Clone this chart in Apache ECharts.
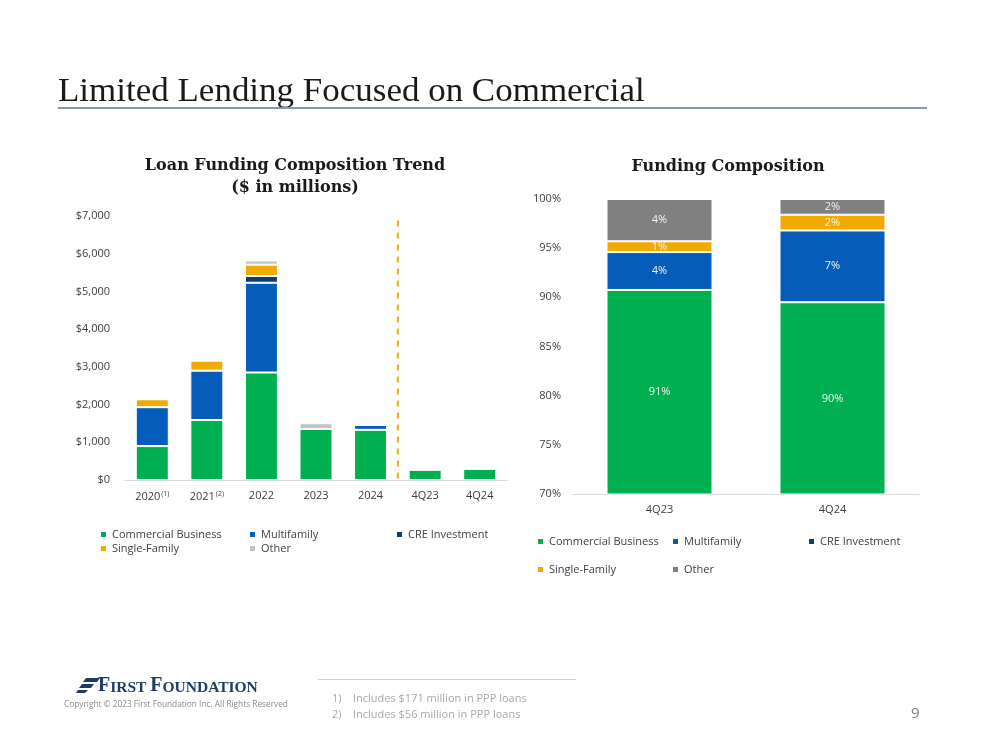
<!DOCTYPE html>
<html>
<head>
<meta charset="utf-8">
<script src="https://cdn.jsdelivr.net/npm/echarts@6/dist/echarts.min.js"></script>
<style>
html,body{margin:0;padding:0;background:#fff;}
#c{width:999px;height:750px;}
</style>
</head>
<body>
<div id="c"></div>
<script>
// ---- Left chart data ($ in millions) ----
var trendCategories = ['2020', '2021', '2022', '2023', '2024', '4Q23', '4Q24'];
var trendNotes = ['(1)', '(2)', '', '', '', '', ''];
var trendCommercial = [900, 1590, 2850, 1355, 1330, 275, 300];
var trendMultifamily = [1030, 1310, 2380, 0, 130, 0, 0];
var trendCRE = [0, 0, 180, 0, 0, 0, 0];
var trendSingleFamily = [210, 265, 300, 0, 0, 0, 0];
var trendOther = [0, 0, 110, 150, 0, 0, 0];
var trendDivider = 4.5; // between 2024 and 4Q23
var trendYTicks = [0, 1000, 2000, 3000, 4000, 5000, 6000, 7000];

// ---- Right chart data (%) ----
var compCategories = ['4Q23', '4Q24'];
var compCommercial = [90.75, 89.5];
var compMultifamily = [3.85, 7.3];
var compCRE = [0, 0];
var compSingleFamily = [1.1, 1.6];
var compOther = [4.3, 1.6];
var compYTicks = [70, 75, 80, 85, 90, 95, 100];

var C_GREEN = '#00b050', C_BLUE = '#065cb9', C_NAVY = '#0f3e6e', C_GOLD = '#f0ab00',
    C_LGRAY = '#c3c3c3', C_DGRAY = '#808080';
var TXT = '#404040';
var FONT = 'Open Sans';

var chart = echarts.init(document.getElementById('c'), null, {renderer: 'canvas'});

function barItem(color) {
  return {color: color, borderColor: '#ffffff', borderWidth: 1};
}
function compLabel() {
  return {
    show: true, position: 'inside', color: '#f2f2f2', fontSize: 11, fontFamily: FONT,
    formatter: function (p) { return p.value > 0 ? Math.round(p.value) + '%' : ''; }
  };
}
var legendText = {color: TXT, fontSize: 11, fontFamily: FONT};

var option = {
  backgroundColor: '#ffffff',
  animation: false,
  grid: [
    {left: 125, top: 216, width: 382, height: 264},
    {left: 573, top: 199, width: 346, height: 295}
  ],
  xAxis: [
    {
      type: 'category', gridIndex: 0, data: trendCategories,
      axisLine: {lineStyle: {color: '#d9d9d9', width: 1}},
      axisTick: {show: false},
      axisLabel: {
        color: TXT, fontSize: 11, fontFamily: FONT, margin: 10, interval: 0,
        formatter: function (v, i) {
          var n = trendNotes[i];
          return n ? v + '{s|' + n + '}' : v;
        },
        rich: {s: {fontSize: 7, fontFamily: FONT, color: TXT, verticalAlign: 'top', padding: [0, 0, 7, 1]}}
      }
    },
    {
      type: 'category', gridIndex: 1, data: compCategories,
      axisLine: {lineStyle: {color: '#d9d9d9', width: 1}},
      axisTick: {show: false},
      axisLabel: {color: TXT, fontSize: 11, fontFamily: FONT, margin: 10, interval: 0}
    },
    {
      type: 'value', gridIndex: 0, min: -0.5, max: 6.5, show: false
    }
  ],
  yAxis: [
    {
      type: 'value', gridIndex: 0, min: 0, max: 7000, interval: 1000,
      splitLine: {show: false}, axisLine: {show: false}, axisTick: {show: false},
      axisLabel: {
        color: TXT, fontSize: 11, fontFamily: FONT, margin: 15,
        formatter: function (v) { return '$' + v.toLocaleString('en-US'); }
      }
    },
    {
      type: 'value', gridIndex: 1, min: 70, max: 100, interval: 5,
      splitLine: {show: false}, axisLine: {show: false}, axisTick: {show: false},
      axisLabel: {color: TXT, fontSize: 11, fontFamily: FONT, margin: 12, formatter: '{value}%'}
    }
  ],
  legend: [
    {orient: 'vertical', left: 94, top: 524, itemWidth: 7, itemHeight: 7, itemGap: 3, icon: 'rect', textStyle: legendText,
      data: [{name: 'Commercial Business', itemStyle: {color: C_GREEN}}, {name: 'Single-Family', itemStyle: {color: C_GOLD}}]},
    {orient: 'vertical', left: 243, top: 524, itemWidth: 7, itemHeight: 7, itemGap: 3, icon: 'rect', textStyle: legendText,
      data: [{name: 'Multifamily', itemStyle: {color: C_BLUE}}, {name: 'Other', itemStyle: {color: C_LGRAY}}]},
    {orient: 'vertical', left: 390, top: 524, itemWidth: 7, itemHeight: 7, itemGap: 3, icon: 'rect', textStyle: legendText,
      data: [{name: 'CRE Investment', itemStyle: {color: C_NAVY}}]},
    {orient: 'vertical', left: 531, top: 531, itemWidth: 7, itemHeight: 7, itemGap: 17, icon: 'rect', textStyle: legendText,
      data: [{name: 'Commercial Business', itemStyle: {color: C_GREEN}}, {name: 'Single-Family', itemStyle: {color: C_GOLD}}]},
    {orient: 'vertical', left: 666, top: 531, itemWidth: 7, itemHeight: 7, itemGap: 17, icon: 'rect', textStyle: legendText,
      data: [{name: 'Multifamily', itemStyle: {color: C_BLUE}}, {name: 'Other', itemStyle: {color: C_DGRAY}}]},
    {orient: 'vertical', left: 802, top: 531, itemWidth: 7, itemHeight: 7, itemGap: 17, icon: 'rect', textStyle: legendText,
      data: [{name: 'CRE Investment', itemStyle: {color: C_NAVY}}]}
  ],
  series: [
    {name: 'Commercial Business', type: 'bar', stack: 'L', xAxisIndex: 0, yAxisIndex: 0, barWidth: 33, itemStyle: barItem(C_GREEN), data: trendCommercial},
    {name: 'Multifamily', type: 'bar', stack: 'L', xAxisIndex: 0, yAxisIndex: 0, barWidth: 33, itemStyle: barItem(C_BLUE), data: trendMultifamily},
    {name: 'CRE Investment', type: 'bar', stack: 'L', xAxisIndex: 0, yAxisIndex: 0, barWidth: 33, itemStyle: barItem(C_NAVY), data: trendCRE},
    {name: 'Single-Family', type: 'bar', stack: 'L', xAxisIndex: 0, yAxisIndex: 0, barWidth: 33, itemStyle: barItem(C_GOLD), data: trendSingleFamily},
    {name: 'Other', type: 'bar', stack: 'L', xAxisIndex: 0, yAxisIndex: 0, barWidth: 33, itemStyle: barItem(C_LGRAY), data: trendOther},
    {name: 'divider', type: 'line', xAxisIndex: 2, yAxisIndex: 0, symbol: 'none', silent: true,
      lineStyle: {color: C_GOLD, width: 2, type: [6, 6]},
      data: [[trendDivider, 40], [trendDivider, trendYTicks[trendYTicks.length - 1]]]},

    {name: 'Commercial Business', type: 'bar', stack: 'R', xAxisIndex: 1, yAxisIndex: 1, barWidth: 106, itemStyle: barItem(C_GREEN), label: compLabel(), data: compCommercial},
    {name: 'Multifamily', type: 'bar', stack: 'R', xAxisIndex: 1, yAxisIndex: 1, barWidth: 106, itemStyle: barItem(C_BLUE), label: compLabel(), data: compMultifamily},
    {name: 'CRE Investment', type: 'bar', stack: 'R', xAxisIndex: 1, yAxisIndex: 1, barWidth: 106, itemStyle: barItem(C_NAVY), data: compCRE},
    {name: 'Single-Family', type: 'bar', stack: 'R', xAxisIndex: 1, yAxisIndex: 1, barWidth: 106, itemStyle: barItem(C_GOLD), label: compLabel(), data: compSingleFamily},
    {name: 'Other', type: 'bar', stack: 'R', xAxisIndex: 1, yAxisIndex: 1, barWidth: 106, itemStyle: barItem(C_DGRAY), label: compLabel(), data: compOther}
  ],
  graphic: [
    {type: 'text', x: 58, y: 76, scaleX: 1.06, style: {text: 'Limited Lending Focused on Commercial', font: '33px "Liberation Serif"', fill: '#1a1a1a'}},
    {type: 'rect', shape: {x: 58, y: 107, width: 869, height: 2}, style: {fill: '#8798a8'}},
    {type: 'text', x: 295, y: 155, style: {text: 'Loan Funding Composition Trend\n($ in millions)', font: 'bold 16px "DejaVu Serif"', fill: '#1a1a1a', align: 'center', lineHeight: 22}},
    {type: 'text', x: 728, y: 159, style: {text: 'Funding Composition', font: 'bold 16px "DejaVu Serif"', fill: '#1a1a1a', align: 'center'}},
    // footer
    {type: 'rect', shape: {x: 318, y: 679, width: 258, height: 1}, style: {fill: '#d0d0d0'}},
    {type: 'text', x: 332, y: 693, style: {text: '1)    Includes $171 million in PPP loans', font: '11px "Open Sans"', fill: '#a8a8a8'}},
    {type: 'text', x: 332, y: 709, style: {text: '2)    Includes $56 million in PPP loans', font: '11px "Open Sans"', fill: '#a8a8a8'}},
    {type: 'text', x: 911, y: 706, style: {text: '9', font: '15px "Open Sans"', fill: '#7f7f7f'}},
    {type: 'text', x: 64, y: 701, style: {text: 'Copyright \u00a9 2023 First Foundation Inc. All Rights Reserved', font: '8.3px "Open Sans"', fill: '#8a8a8a'}},
    // logo
    {type: 'polygon', shape: {points: [[86, 678], [100, 678], [97, 682], [83, 682]]}, style: {fill: '#1f3b6b'}},
    {type: 'polygon', shape: {points: [[82, 684], [94, 684], [91, 688], [79, 688]]}, style: {fill: '#1f3b6b'}},
    {type: 'polygon', shape: {points: [[78, 690], [88, 690], [85, 693], [76, 693]]}, style: {fill: '#1f3b6b'}},
    {type: 'text', x: 98, y: 676, style: {
      text: '{b|F}{s|IRST }{b|F}{s|OUNDATION}', fill: '#1f3b6b',
      rich: {b: {font: 'bold 20px "Liberation Serif"', fill: '#1f3b6b', verticalAlign: 'bottom'},
             s: {font: 'bold 15.5px "Liberation Serif"', fill: '#1f3b6b', verticalAlign: 'bottom'}}
    }}
  ]
};
chart.setOption(option);
</script>
</body>
</html>
